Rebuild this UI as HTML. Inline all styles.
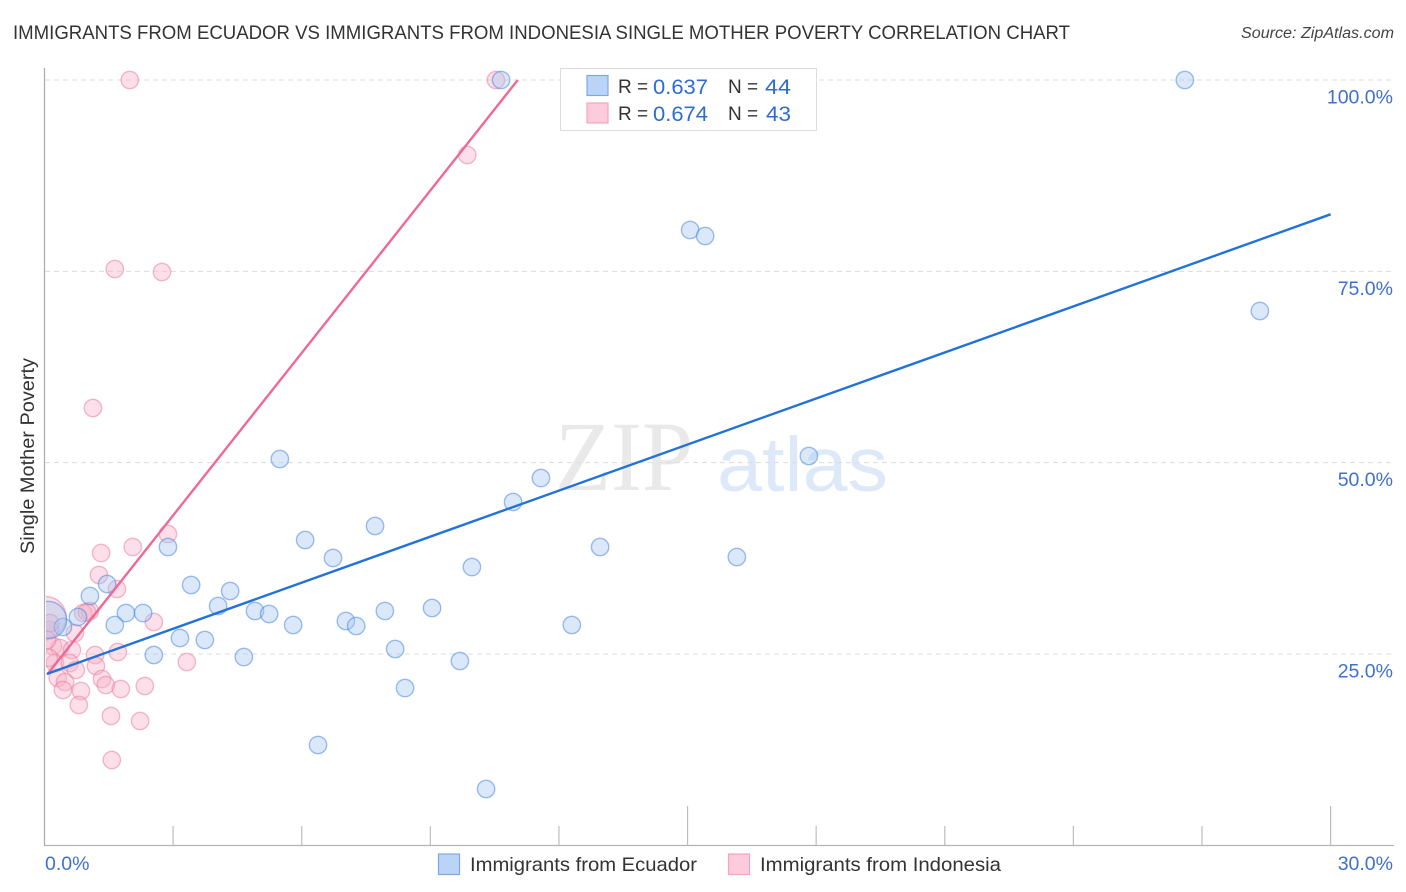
<!DOCTYPE html>
<html lang="en">
<head>
<meta charset="utf-8">
<title>Immigrants from Ecuador vs Immigrants from Indonesia Single Mother Poverty Correlation Chart</title>
<style>
html,body{margin:0;padding:0;background:#fff;}
body{width:1406px;height:892px;overflow:hidden;font-family:"Liberation Sans",sans-serif;}
svg{display:block;}
text{font-family:"Liberation Sans",sans-serif;}
</style>
</head>
<body>
<svg id="chart" xmlns="http://www.w3.org/2000/svg" width="1406" height="892" viewBox="0 0 1406 892">
  <defs>
    <clipPath id="plot-clip"><rect x="46" y="60" width="1348" height="786"></rect></clipPath>
  </defs>
  <text x="13" y="39" font-size="19.5" fill="#333" textLength="1057" lengthAdjust="spacingAndGlyphs">IMMIGRANTS FROM ECUADOR VS IMMIGRANTS FROM INDONESIA SINGLE MOTHER POVERTY CORRELATION CHART</text>
  <text x="1241" y="38" font-size="15.5" font-style="italic" fill="#444" textLength="153" lengthAdjust="spacingAndGlyphs">Source: ZipAtlas.com</text>

  <text x="555" y="490" font-size="100" fill="#e9e9e9" textLength="138" lengthAdjust="spacingAndGlyphs" style="font-family:'Liberation Serif',serif">ZIP</text>
  <text x="717" y="491" font-size="77" fill="#dde8f8" textLength="171" lengthAdjust="spacingAndGlyphs">atlas</text>

  <g id="grid"></g>
  <g id="axes"></g>
  <g id="points" clip-path="url(#plot-clip)"></g>
  <rect x="0" y="590" width="43.8" height="60" fill="#fff"></rect>
  <g id="trends"></g>

  <text transform="translate(34,456) rotate(-90)" font-size="19" fill="#333" text-anchor="middle" textLength="196" lengthAdjust="spacingAndGlyphs">Single Mother Poverty</text>

  <g>
    <rect x="560.5" y="68.5" width="256" height="62" fill="#fff" stroke="#dcdcdc"></rect>
    <rect x="587" y="75.5" width="21" height="20" fill="#b9d4f6" stroke="#7fa9e3" stroke-width="1.2"></rect>
    <rect x="587" y="103" width="21" height="20" fill="#fdcbdb" stroke="#f2a5bd" stroke-width="1.2"></rect>
    <text x="618" y="93" font-size="19" fill="#333">R =</text>
    <text x="653" y="94" font-size="21" fill="#2f6ccf" textLength="55" lengthAdjust="spacingAndGlyphs">0.637</text>
    <text x="728" y="93" font-size="19" fill="#333">N =</text>
    <text x="765" y="94" font-size="21" fill="#2f6ccf" textLength="26" lengthAdjust="spacingAndGlyphs">44</text>
    <text x="618" y="120" font-size="19" fill="#333">R =</text>
    <text x="653" y="121" font-size="21" fill="#2f6ccf" textLength="55" lengthAdjust="spacingAndGlyphs">0.674</text>
    <text x="728" y="120" font-size="19" fill="#333">N =</text>
    <text x="766" y="121" font-size="21" fill="#2f6ccf" textLength="25" lengthAdjust="spacingAndGlyphs">43</text>
  </g>

  <g>
    <rect x="438.5" y="854" width="21" height="20.5" fill="#b9d4f6" stroke="#7fa9e3" stroke-width="1.2"></rect>
    <text x="470" y="871" font-size="19.5" fill="#333" textLength="227" lengthAdjust="spacingAndGlyphs">Immigrants from Ecuador</text>
    <rect x="728.5" y="854" width="21" height="20.5" fill="#fdcbdb" stroke="#f2a5bd" stroke-width="1.2"></rect>
    <text x="760" y="871" font-size="19.5" fill="#333" textLength="241" lengthAdjust="spacingAndGlyphs">Immigrants from Indonesia</text>
  </g>
</svg>
<script>
const yTickValues = [25, 50, 75, 100];
const yTickLabels = ["25.0%", "50.0%", "75.0%", "100.0%"];
const xTickValues = [3, 6, 9, 12, 15, 18, 21, 24, 27, 30];
const xMajorTicks = [15, 30];
const xEdgeValues = [0, 30];
const xEdgeLabels = ["0.0%", "30.0%"];

const ecuadorX = [26.60,10.65,15.06,15.41,28.35,17.83,5.49,11.58,10.93,7.71,6.08,12.96,2.88,16.15,6.73,9.97,1.46,3.42,4.33,1.06,4.05,9.04,4.91,7.94,5.24,1.90,2.30,0.78,5.80,12.30,7.03,7.27,1.64,0.43,3.16,3.74,8.18,2.55,4.65,9.69,8.41,6.38,10.30,0.08];
const ecuadorY = [100,100,80.40,79.62,69.82,50.87,50.48,47.99,44.86,41.72,39.89,38.98,38.98,37.67,37.54,36.36,34.14,34.01,33.23,32.58,31.27,31.01,30.62,30.62,30.22,30.35,30.35,29.83,28.79,28.79,29.31,28.66,28.79,28.52,27.09,26.83,25.65,24.87,24.60,24.08,20.55,13.11,7.36,29.44];
const ecuadorWeight = [1,1,1,1,1,1,1,1,1,1,1,1,1,1,1,1,1,1,1,1,1,1,1,1,1,1,1,1,1,1,1,1,1,1,1,1,1,1,1,1,1,1,1,4.6];

const indonesiaX = [1.99,10.53,9.86,1.64,2.74,1.13,2.88,2.06,1.32,1.27,1.69,2.55,1.06,0.90,0.99,0.71,0.03,0.13,0.20,0.36,0.64,1.18,1.71,3.32,1.20,0.24,0.59,0.73,1.34,1.43,1.78,2.34,0.31,0.48,0.43,0.85,0.80,1.55,2.23,1.57,0.13,0.06,0.10];
const indonesiaY = [100,100,90.20,75.30,74.91,57.14,40.68,38.98,38.19,35.32,33.49,29.18,30.62,30.35,30.48,27.74,29.83,28.13,26.04,25.78,25.52,24.87,25.26,23.95,23.43,23.82,23.82,22.91,21.73,20.95,20.42,20.82,21.86,21.34,20.29,20.16,18.33,16.90,16.24,11.15,29.05,26.83,24.50];
const indonesiaWeight = [1,1,1,1,1,1,1,1,1,1,1,1,1,1,1,1,5.5,1,1,1,1,1,1,1,1,1,1,1,1,1,1,1,1,1,1,1,1,1,1,1,1,1,1];

const ecuadorTrendX = [0.06, 30];
const ecuadorTrendY = [22.4, 82.45];
const indonesiaTrendX = [0.06, 11.04];
const indonesiaTrendY = [22.3, 100];

const SVGNS = "http://www.w3.org/2000/svg";
function xScale(v) { return 44.5 + v * 42.87; }
function yScale(v) { return 845.3 - v * 7.653; }
function make(tag, attrs, parent) {
  const el = document.createElementNS(SVGNS, tag);
  for (const k in attrs) el.setAttribute(k, attrs[k]);
  parent.appendChild(el);
  return el;
}

const grid = document.getElementById("grid");
const axes = document.getElementById("axes");
const points = document.getElementById("points");
const trends = document.getElementById("trends");

yTickValues.forEach(function (v, i) {
  const line = make("line", {x1: 45, x2: 1394, y1: yScale(v), y2: yScale(v), stroke: "#dcdcdc", "stroke-width": 1, "stroke-dasharray": "5 4"}, grid);
  
  
  const label = make("text", {x: 1393, y: yScale(v) + 23.5, "font-size": 19.5, fill: "#3f70cf", "text-anchor": "end"}, axes);
  label.textContent = yTickLabels[i];
  
  
});

const yAxis = make("line", {x1: 44.5, x2: 44.5, y1: 68, y2: 846, stroke: "#aeaeae", "stroke-width": 1.3}, axes);


const xAxis = make("line", {x1: 44, x2: 1394, y1: 845.5, y2: 845.5, stroke: "#b4b4b4", "stroke-width": 1.3}, axes);



xTickValues.forEach(function (v) {
  const top = xMajorTicks.indexOf(v) >= 0 ? 806 : 826;
  const tick = make("line", {x1: xScale(v), x2: xScale(v), y1: top, y2: 845, stroke: "#bdbdbd", "stroke-width": 1.2}, axes);
  
  
});

xEdgeValues.forEach(function (v, i) {
  const anchorEnd = i === xEdgeValues.length - 1;
  const label = make("text", {x: anchorEnd ? 1393 : xScale(v) + 0.5, y: 870, "font-size": 19.5, fill: "#3f70cf", "text-anchor": anchorEnd ? "end" : "start"}, axes);
  label.textContent = xEdgeLabels[i];
  
  
});

function drawSeries(xs, ys, weights, fill, stroke, pointName) {
  xs.forEach(function (x, i) {
    const c = make("circle", {
      cx: xScale(x), cy: yScale(ys[i]), r: 8.7 * Math.sqrt(weights[i]),
      fill: fill, "fill-opacity": 0.42, stroke: stroke, "stroke-opacity": 0.5, "stroke-width": 1.4
    }, points);
    
    
  });
}
drawSeries(indonesiaX, indonesiaY, indonesiaWeight, "#f7b3c8", "#e8799c", "point-indonesia");
drawSeries(ecuadorX, ecuadorY, ecuadorWeight, "#a6c8f1", "#3f7fdc", "point-ecuador");

const indonesiaTrend = make("line", {
  x1: xScale(indonesiaTrendX[0]), y1: yScale(indonesiaTrendY[0]),
  x2: xScale(indonesiaTrendX[1]), y2: yScale(indonesiaTrendY[1]),
  stroke: "#ee6a96", "stroke-width": 2.4
}, trends);



const ecuadorTrend = make("line", {
  x1: xScale(ecuadorTrendX[0]), y1: yScale(ecuadorTrendY[0]),
  x2: xScale(ecuadorTrendX[1]), y2: yScale(ecuadorTrendY[1]),
  stroke: "#2272d8", "stroke-width": 2.4
}, trends);


</script>
</body>
</html>
